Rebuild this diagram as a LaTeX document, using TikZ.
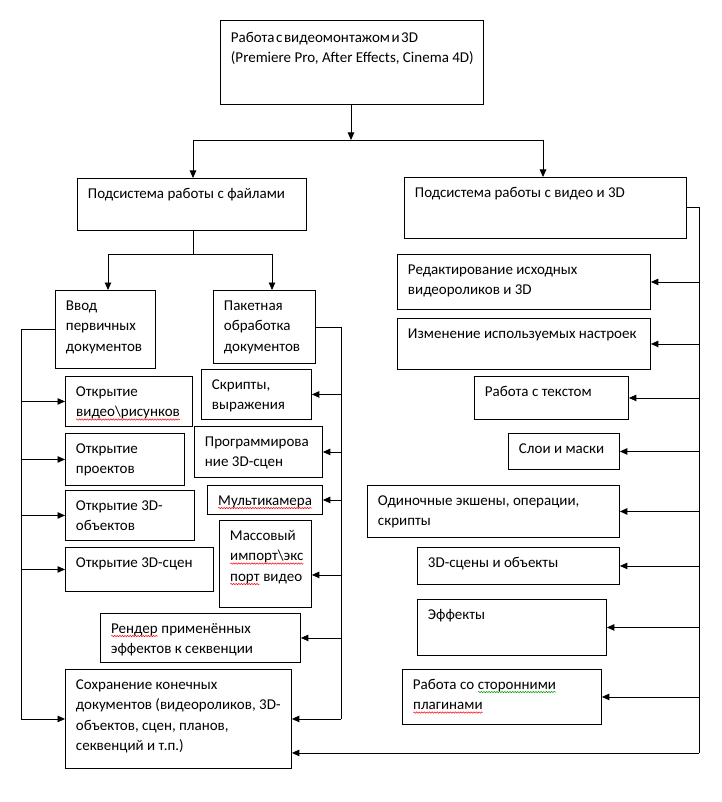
\documentclass[tikz,border=0pt]{standalone}
\usepackage{fontspec}
\setmainfont{Carlito}
\usetikzlibrary{arrows.meta,decorations.pathmorphing}
\newcommand\wv[2]{\tikz[baseline=(t.base)]{\node[inner sep=0pt,outer sep=0pt,anchor=base west] (t) {#2};
  \draw[#1, line width=0.5pt, decorate, decoration={snake,amplitude=0.7pt,segment length=2.6pt}] ([yshift=-2.6pt]t.base west) -- ([yshift=-2.6pt]t.base east);}}
\newcommand\rw[1]{\wv{red}{#1}}
\newcommand\gw[1]{\wv{green!60!black}{#1}}
\tikzset{
  box/.style={draw, line width=0.9pt, inner sep=0pt, anchor=north west,
    font=\fontsize{15pt}{20.5pt}\selectfont},
  ln/.style={line width=0.9pt},
  arr/.style={line width=0.9pt, -{Triangle[length=7.5pt,width=6.5pt]}}
}
% name, x1, y1, x2, y2, text
\newcommand\bx[6]{%
  \node[box] (#1) at (#2pt,-#3pt) {\parbox[t][\dimexpr #5pt-#3pt\relax][t]{\dimexpr #4pt-#2pt\relax}{%
    \raggedright\leftskip=10.5pt\parindent=0pt\rule{0pt}{20pt}#6}};}
\begin{document}
\begin{tikzpicture}[x=1pt,y=1pt]
\useasboundingbox[fill=white] (0,0) rectangle (721,-802);
% top
\bx{top}{220}{20}{483}{104}{\rule{0pt}{22pt}{\spaceskip=1.5pt plus 0.5pt Работа с видеомонтажом и 3D}\\(Premiere Pro, After Effects, Cinema 4D)}
\bx{fs}{77}{178}{306}{230}{Подсистема работы с файлами}
\bx{vs}{404}{177}{686}{238}{Подсистема работы с видео и 3D}
% left branch
\bx{inp}{55}{290}{155}{368}{Ввод\\первичных\\документов}
\bx{pk}{213}{290}{315}{363}{Пакетная\\обработка\\документов}
\bx{o1}{65}{376}{192}{426}{Открытие\\\rw{видео\textbackslash рисунков}}
\bx{o2}{65}{433}{184}{485}{Открытие\\проектов}
\bx{o3}{65}{490}{194}{540}{Открытие 3D-\\объектов}
\bx{o4}{65}{547}{213}{591}{Открытие 3D-сцен}
\bx{save}{65}{669}{291}{768}{Сохранение конечных\\документов (видеороликов, 3D-\\объектов, сцен, планов,\\секвенций и т.п.)}
% middle
\bx{sk}{201}{369}{311}{419}{Скрипты,\\выражения}
\bx{pr}{194}{426}{322}{477}{Программирова\\ние 3D-сцен}
\bx{mu}{207}{485}{322}{514}{\rule{0pt}{19pt}\rw{Мультикамера}}
\bx{ma}{219}{520}{311}{607}{Массовый\\\rw{импорт\textbackslash экс}\\\rw{порт} видео}
\bx{re}{100}{613}{300}{662}{\rw{Рендер} применённых\\эффектов к секвенции}
% right
\bx{ed}{397}{254}{650}{309}{Редактирование исходных\\видеороликов и 3D}
\bx{ch}{397}{318}{650}{369}{Изменение используемых настроек}
\bx{tx}{474}{376}{628}{419}{Работа с текстом}
\bx{sl}{508}{433}{619}{469}{Слои и маски}
\bx{od}{367}{485}{619}{537}{Одиночные экшены, операции,\\скрипты}
\bx{sc}{417}{547}{619}{584}{3D-сцены и объекты}
\bx{ef}{417}{599}{606}{655}{Эффекты}
\bx{pl}{402}{669}{601}{724}{Работа со \gw{сторонними}\\\rw{плагинами}}
% connectors: top level
\coordinate (j1) at (351,-140);
\coordinate (hl) at (193,-140);
\coordinate (hr) at (543,-140);
\draw[arr] (top.south -| j1) -- (j1);
\draw[ln] (hl) -- (hr);
\draw[arr] (hl) -- (hl |- fs.north);
\draw[arr] (hr) -- (hr |- vs.north);
% files subsystem split
\coordinate (j2) at (193,-254);
\coordinate (h2l) at (108,-254);
\coordinate (h2r) at (272,-254);
\draw[ln] (j2 |- fs.south) -- (j2);
\draw[ln] (h2l) -- (h2r);
\draw[arr] (h2l) -- (h2l |- inp.north);
\draw[arr] (h2r) -- (h2r |- pk.north);
% left trunk
\coordinate (lx) at (21,0);
\draw[ln] (inp.west) -- (inp.west -| lx) -- (lx |- save.west);
\foreach \n in {o1,o2,o3,o4,save} \draw[arr] (lx |- \n.west) -- (\n.west);
% middle trunk
\coordinate (mx) at (341,0);
\coordinate (maa) at ([yshift=-11pt]ma.east);
\draw[ln] (pk.east) -- (pk.east -| mx) -- (mx |- save.east);
\foreach \n in {sk,pr,mu,re,save} \draw[arr] (mx |- \n.east) -- (\n.east);
\draw[arr] (mx |- maa) -- (maa);
% right trunk
\coordinate (rx) at (699,0);
\coordinate (sv2) at ([yshift=-34pt]save.east);
\draw[ln] (vs.east) -- (vs.east -| rx) -- (rx |- sv2);
\draw[arr] (rx |- sv2) -- (sv2);
\foreach \n in {ed,ch,tx,sl,od,sc,ef,pl} \draw[arr] (rx |- \n.east) -- (\n.east);
\end{tikzpicture}
\end{document}
